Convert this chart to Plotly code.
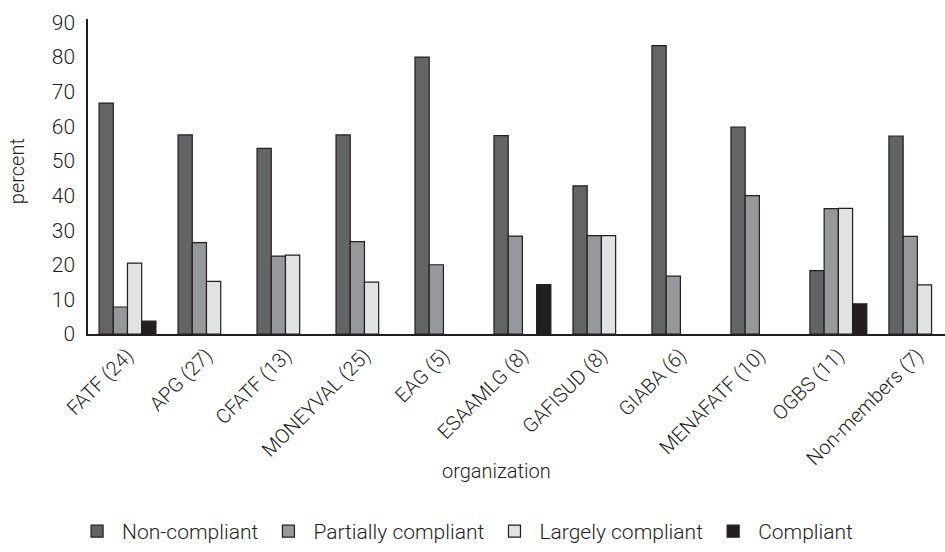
import plotly.graph_objects as go

organizations = ["FATF (24)", "APG (27)", "CFATF (13)", "MONEYVAL (25)", "EAG (5)",
                 "ESAAMLG (8)", "GAFISUD (8)", "GIABA (6)", "MENAFATF (10)", "OGBS (11)",
                 "Non-members (7)"]
non_compliant = [66.7, 57.5, 53.6, 57.5, 80.0, 57.3, 42.8, 83.3, 59.8, 18.3, 57.2]
partially_compliant = [7.8, 26.4, 22.5, 26.7, 20.0, 28.3, 28.4, 16.7, 40.0, 36.2, 28.2]
largely_compliant = [20.5, 15.2, 22.8, 15.0, None, None, 28.4, None, None, 36.3, 14.2]
compliant = [3.7, None, None, None, None, 14.3, None, None, None, 8.7, None]

series_names = ["Non-compliant", "Partially compliant", "Largely compliant", "Compliant"]
series_values = [non_compliant, partially_compliant, largely_compliant, compliant]
colors = ["#636466", "#97989b", "#e1e2e4", "#231f20"]

FONT = "Roboto, sans-serif"
TXT = "#231f20"

fig = go.Figure()
for name, vals, col in zip(series_names, series_values, colors):
    fig.add_trace(go.Bar(
        name=name, x=organizations, y=vals,
        marker=dict(color=col, line=dict(color="#231f20", width=1.2)),
    ))

fig.update_layout(
    width=945, height=552,
    barmode="group", bargap=0.28, bargroupgap=0,
    plot_bgcolor="white", paper_bgcolor="white",
    margin=dict(l=88, r=0, t=19, b=213),
    font=dict(family=FONT, size=20, color=TXT, weight=300),
    showlegend=True,
    legend=dict(orientation="h", x=0.44, xanchor="center", y=-0.628, yanchor="middle",
                font=dict(size=21, weight=300), traceorder="normal", itemwidth=40),
    xaxis=dict(
        range=[-0.5, 10.35], showline=True, linecolor="#231f20", linewidth=1.5,
        ticks="", tickangle=-45, tickfont=dict(size=20, weight=300),
        automargin=False,
    ),
    yaxis=dict(
        range=[0, 91], tickvals=[0, 10, 20, 30, 40, 50, 60, 70, 80, 90],
        showline=True, linecolor="#231f20", linewidth=1.5, showgrid=False,
        zeroline=False, ticks="", tickfont=dict(size=21, weight=300),
        ticklabelstandoff=7,
        automargin=False,
    ),
    annotations=[
        dict(text="organization", xref="paper", yref="paper", x=0.477, y=-0.434,
             xanchor="center", yanchor="middle", showarrow=False,
             font=dict(size=20, weight=300)),
        dict(text="percent", xref="paper", yref="paper", x=-0.0828, y=0.517,
             xanchor="center", yanchor="middle", textangle=-90, showarrow=False,
             font=dict(size=20, weight=300)),
    ],
)

fig.write_html("out.html", config={"displayModeBar": False},
               post_script="document.body.style.margin='0px';document.body.style.padding='0px';")
